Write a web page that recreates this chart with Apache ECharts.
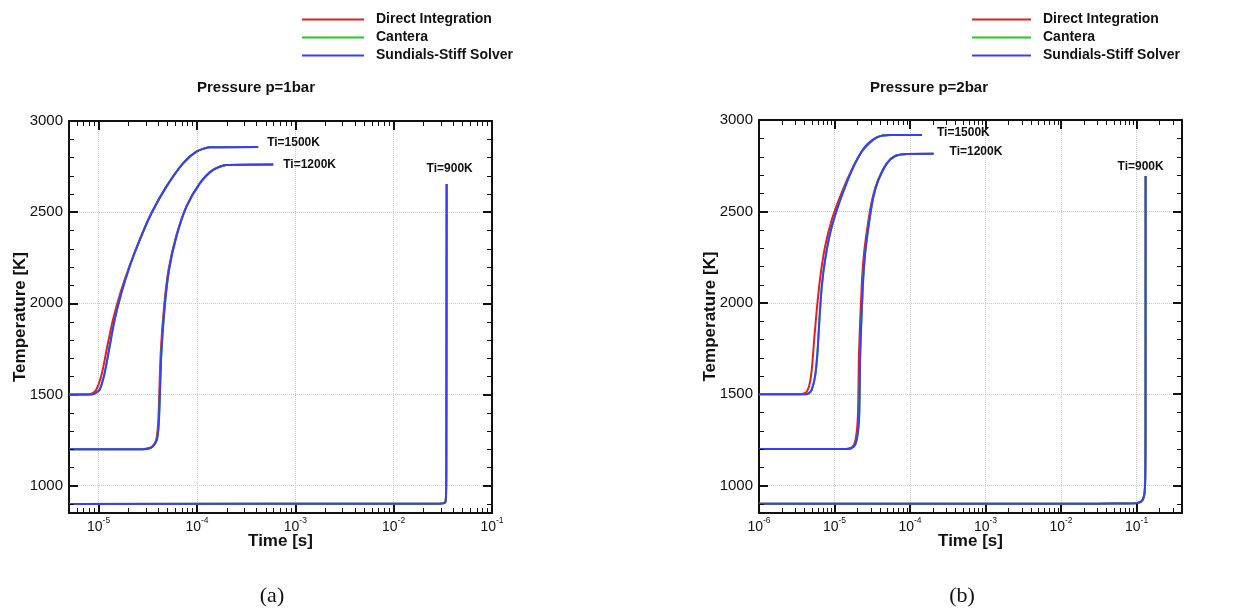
<!DOCTYPE html>
<html><head><meta charset="utf-8">
<script src="https://cdn.jsdelivr.net/npm/echarts@6/dist/echarts.min.js"></script>
<style>html,body{margin:0;padding:0;background:#fff}#c{width:1252px;height:614px}</style>
</head><body><div id="c"></div>
<script>
// ---------------- DATA ----------------
const methods = ['Direct Integration', 'Cantera', 'Sundials-Stiff Solver'];
const tiLabels = ['Ti=1500K', 'Ti=1200K', 'Ti=900K'];
const panelTitles = ['Pressure p=1bar', 'Pressure p=2bar'];
const captions = ['(a)', '(b)'];
const xName = 'Time [s]';
const yName = 'Temperature [K]';

const xRangeA = [5e-6, 1e-1];
const xRangeB = [1e-6, 0.4];
const yRange = [850, 3000];

const xMinorA = [6e-6,7e-6,8e-6,9e-6, 2e-5,3e-5,4e-5,5e-5,6e-5,7e-5,8e-5,9e-5, 2e-4,3e-4,4e-4,5e-4,6e-4,7e-4,8e-4,9e-4, 2e-3,3e-3,4e-3,5e-3,6e-3,7e-3,8e-3,9e-3, 2e-2,3e-2,4e-2,5e-2,6e-2,7e-2,8e-2,9e-2];
const xMinorB = [2e-6,3e-6,4e-6,5e-6,6e-6,7e-6,8e-6,9e-6, 2e-5,3e-5,4e-5,5e-5,6e-5,7e-5,8e-5,9e-5, 2e-4,3e-4,4e-4,5e-4,6e-4,7e-4,8e-4,9e-4, 2e-3,3e-3,4e-3,5e-3,6e-3,7e-3,8e-3,9e-3, 2e-2,3e-2,4e-2,5e-2,6e-2,7e-2,8e-2,9e-2, 0.2,0.3];
const yMinor = [900, 1100,1200,1300,1400, 1600,1700,1800,1900, 2100,2200,2300,2400, 2600,2700,2800,2900];

// (a) p = 1 bar   [time s, temperature K]
const a1500Direct = [[5e-6,1500],[7.6e-6,1500],[8.6e-6,1506],[9.46e-6,1526],[1.081e-5,1617],[1.225e-5,1763],[1.4e-5,1910],[1.663e-5,2056],[2.05e-5,2202],[2.618e-5,2348],[3.443e-5,2494],[4.887e-5,2640],[7.21e-5,2768],[9.89e-5,2832],[1.349e-4,2856],[4.19e-4,2858]];
const a1500Sundials = [[5e-6,1500],[8.1e-6,1500],[9.2e-6,1506],[1.023e-5,1526],[1.151e-5,1617],[1.294e-5,1763],[1.455e-5,1910],[1.702e-5,2056],[2.07e-5,2202],[2.618e-5,2348],[3.443e-5,2494],[4.887e-5,2640],[7.21e-5,2768],[9.89e-5,2832],[1.349e-4,2856],[4.19e-4,2858]];
const a1500Cantera = a1500Sundials;
const a1200Direct = [[5e-6,1200],[2.76e-5,1200],[3.35e-5,1208],[3.69e-5,1230],[3.89e-5,1262],[4.05e-5,1362],[4.28e-5,1727],[4.63e-5,1982],[5.14e-5,2184],[6.13e-5,2366],[7.8e-5,2530],[1.069e-4,2658],[1.459e-4,2732],[1.995e-4,2759],[5.96e-4,2762]];
const a1200Sundials = [[5e-6,1200],[2.8e-5,1200],[3.4e-5,1208],[3.75e-5,1230],[3.95e-5,1262],[4.11e-5,1362],[4.345e-5,1727],[4.7e-5,1982],[5.2e-5,2184],[6.18e-5,2366],[7.82e-5,2530],[1.069e-4,2658],[1.459e-4,2732],[1.995e-4,2759],[5.96e-4,2762]];
const a1200Cantera = a1200Sundials;
const a900Sundials = [[5e-6,900],[0.029,901],[0.0332,906],[0.034,930],[0.0343,1100],[0.0346,2655]];
const a900Direct = a900Sundials;
const a900Cantera = a900Sundials;

// (b) p = 2 bar
const b1500Direct = [[1e-6,1500],[3.5e-6,1500],[4.0e-6,1505],[4.3e-6,1515],[4.65e-6,1550],[5.0e-6,1634],[5.42e-6,1816],[5.94e-6,1998],[6.58e-6,2162],[7.5e-6,2308],[9.2e-6,2454],[1.186e-5,2581],[1.61e-5,2709],[2.3e-5,2827],[3.64e-5,2905],[5.46e-5,2918],[1.44e-4,2918]];
const b1500Sundials = [[1e-6,1500],[4.1e-6,1500],[4.6e-6,1506],[5.0e-6,1525],[5.53e-6,1597],[5.94e-6,1725],[6.31e-6,1907],[6.78e-6,2089],[7.5e-6,2235],[8.75e-6,2381],[1.072e-5,2508],[1.384e-5,2636],[1.875e-5,2763],[2.547e-5,2854],[3.64e-5,2905],[5.46e-5,2918],[1.44e-4,2918]];
const b1500Cantera = b1500Sundials;
const b1200Direct = [[1e-6,1200],[1.42e-5,1200],[1.72e-5,1211],[1.9e-5,1251],[2.04e-5,1379],[2.11e-5,1725],[2.29e-5,2089],[2.46e-5,2272],[2.82e-5,2454],[3.22e-5,2581],[3.78e-5,2672],[4.92e-5,2763],[6.36e-5,2803],[9.1e-5,2814],[2.05e-4,2815]];
const b1200Sundials = [[1e-6,1200],[1.455e-5,1200],[1.78e-5,1211],[1.97e-5,1251],[2.12e-5,1379],[2.19e-5,1725],[2.37e-5,2089],[2.547e-5,2272],[2.904e-5,2454],[3.281e-5,2581],[3.819e-5,2672],[4.943e-5,2763],[6.368e-5,2803],[9.1e-5,2814],[2.05e-4,2815]];
const b1200Cantera = b1200Sundials;
const b900Sundials = [[1e-6,900],[0.03,901],[0.07,902],[0.1,904],[0.115,912],[0.123,930],[0.128,965],[0.1305,1050],[0.1315,1300],[0.1318,2694]];
const b900Direct = b900Sundials;
const b900Cantera = b900Sundials;

const panelCurves = [
  [[a1500Direct, a1500Cantera, a1500Sundials], [a1200Direct, a1200Cantera, a1200Sundials], [a900Direct, a900Cantera, a900Sundials]],
  [[b1500Direct, b1500Cantera, b1500Sundials], [b1200Direct, b1200Cantera, b1200Sundials], [b900Direct, b900Cantera, b900Sundials]]
];

// ---------------- STYLE ----------------
const FONT = 'Liberation Sans';
const INK = '#111';
const COLORS = ['#e61e1e', '#1fcc1f', '#3c3cff'];
const grids = [
  {left: 69, top: 121, width: 423, height: 392},
  {left: 759, top: 120, width: 423, height: 393}
];
const xRanges = [xRangeA, xRangeB];
const xMinors = [xMinorA, xMinorB];
const legendLeft = [297, 967];
const legendW = [62, 59];
const titlePos = [[256, 88], [929, 88]];
const capPos = [[272, 596], [962, 596]];
// label placement per panel per Ti: [position, distance, offset]
const tiLabelPlace = [
  [['right', 9, [0, -4]], ['right', 10, [0, 0]], ['top', 9, [3, 0]]],
  [['right', 15, [0, -2]], ['right', 16, [0, -2]], ['top', 3, [-5, 0]]]
];

function supFormatter(v) {
  const e = Math.log10(v);
  const r = Math.round(e);
  if (Math.abs(e - r) > 1e-6) return '';
  return '{b|10}{s|' + r + '}';
}

const xAxes = [], yAxes = [], series = [];
for (let p = 0; p < 2; p++) {
  const axisLine = {show: true, onZero: false, lineStyle: {color: INK, width: 2}};
  const tick = {show: true, inside: true, length: 9, lineStyle: {color: INK, width: 2}};
  xAxes.push({
    type: 'log', logBase: 10, gridIndex: p, position: 'bottom',
    min: xRanges[p][0], max: xRanges[p][1],
    axisLine, axisTick: tick,
    axisLabel: {show: true, margin: 3, formatter: supFormatter, color: INK,
      rich: {b: {fontFamily: FONT, fontSize: 14, lineHeight: 18, verticalAlign: 'bottom', color: INK},
             s: {fontFamily: FONT, fontSize: 8.5, lineHeight: 8, verticalAlign: 'top', color: INK}}},
    splitLine: {show: true, lineStyle: {color: '#c8c8c8', type: 'dotted', width: 1}},
    name: xName, nameLocation: 'middle', nameGap: 20, nameMoveOverlap: false,
    nameTextStyle: {fontFamily: FONT, fontSize: 17, fontWeight: 'bold', color: INK}
  });
  xAxes.push({
    type: 'log', logBase: 10, gridIndex: p, position: 'top',
    min: xRanges[p][0], max: xRanges[p][1],
    axisLine, axisTick: tick, axisLabel: {show: false}, splitLine: {show: false}
  });
  yAxes.push({
    type: 'value', gridIndex: p, position: 'left', min: yRange[0], max: yRange[1],
    axisLine, axisTick: tick,
    axisLabel: {show: true, margin: 6, showMinLabel: false, fontFamily: FONT, fontSize: 15, color: INK,
      formatter: v => String(v)},
    splitLine: {show: true, lineStyle: {color: '#c8c8c8', type: 'dotted', width: 1}},
    name: yName, nameLocation: 'middle', nameGap: 40, nameMoveOverlap: false,
    nameTextStyle: {fontFamily: FONT, fontSize: 17, fontWeight: 'bold', color: INK}
  });
  yAxes.push({
    type: 'value', gridIndex: p, position: 'right', min: yRange[0], max: yRange[1],
    axisLine, axisTick: tick, axisLabel: {show: false}, splitLine: {show: false}
  });

  for (let k = 0; k < 3; k++) {
    for (let m = 0; m < 3; m++) {
      const data = panelCurves[p][k][m];
      const s = {
        type: 'line', name: methods[m], xAxisIndex: p * 2, yAxisIndex: p * 2,
        data, symbol: 'none', showSymbol: false, smooth: 0.25, silent: true,
        lineStyle: {width: 2, color: COLORS[m]}, itemStyle: {color: COLORS[m]}, z: 10 + m
      };
      if (m === 2) {
        const pl = tiLabelPlace[p][k];
        s.markPoint = {
          symbol: 'circle', symbolSize: 0, silent: true,
          data: [{coord: data[data.length - 1], label: {
            show: true, formatter: tiLabels[k], position: pl[0], distance: pl[1], offset: pl[2],
            fontFamily: FONT, fontSize: 12, fontWeight: 'bold', color: INK}}]
        };
      }
      series.push(s);
    }
  }
  // minor ticks (log-spaced on x, every 100 K on y) drawn through the axes' scales
  series.push({
    type: 'custom', xAxisIndex: p * 2, yAxisIndex: p * 2, silent: true, z: 20,
    data: xMinors[p].map(v => [v, yRange[0]]),
    renderItem: (params, api) => {
      const pt = api.coord([api.value(0), api.value(1)]);
      const cs = params.coordSys;
      const x = Math.round(pt[0]) + 0.5;
      return {type: 'group', children: [
        {type: 'line', shape: {x1: x, y1: cs.y + cs.height, x2: x, y2: cs.y + cs.height - 5}, style: {stroke: INK, lineWidth: 1}},
        {type: 'line', shape: {x1: x, y1: cs.y, x2: x, y2: cs.y + 5}, style: {stroke: INK, lineWidth: 1}}
      ]};
    }
  });
  series.push({
    type: 'custom', xAxisIndex: p * 2, yAxisIndex: p * 2, silent: true, z: 20,
    data: yMinor.map(v => [xRanges[p][0], v]),
    renderItem: (params, api) => {
      const pt = api.coord([api.value(0), api.value(1)]);
      const cs = params.coordSys;
      const y = Math.round(pt[1]) + 0.5;
      return {type: 'group', children: [
        {type: 'line', shape: {x1: cs.x, y1: y, x2: cs.x + 5, y2: y}, style: {stroke: INK, lineWidth: 1}},
        {type: 'line', shape: {x1: cs.x + cs.width, y1: y, x2: cs.x + cs.width - 5, y2: y}, style: {stroke: INK, lineWidth: 1}}
      ]};
    }
  });
}

const legends = [0, 1].map(p => ({
  data: methods, orient: 'vertical', left: legendLeft[p], top: 7,
  itemWidth: legendW[p], itemHeight: 2, itemGap: 3, icon: 'rect', selectedMode: false,
  textStyle: {fontFamily: FONT, fontSize: 14, fontWeight: 'bold', color: INK, lineHeight: 15, padding: [0, 0, 0, 7]}
}));

const graphics = [];
for (let p = 0; p < 2; p++) {
  graphics.push({type: 'text', x: titlePos[p][0], y: titlePos[p][1], silent: true,
    style: {text: panelTitles[p], font: 'bold 15px "' + FONT + '"', fill: INK, align: 'center', verticalAlign: 'middle'}});
  graphics.push({type: 'text', x: capPos[p][0], y: capPos[p][1], silent: true,
    style: {text: captions[p], font: '22px "Liberation Serif"', fill: INK, align: 'center', verticalAlign: 'middle'}});
}

const chart = echarts.init(document.getElementById('c'), null, {renderer: 'canvas'});
chart.setOption({
  animation: false,
  backgroundColor: '#fff',
  grid: grids.map(g => Object.assign({containLabel: false}, g)),
  xAxis: xAxes, yAxis: yAxes, legend: legends, series, graphic: graphics
});
</script></body></html>
